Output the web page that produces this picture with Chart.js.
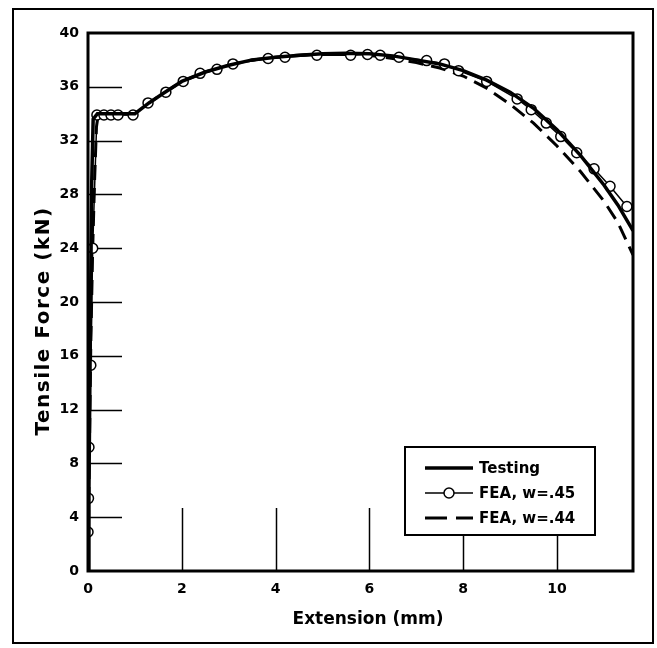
<!DOCTYPE html>
<html>
<head>
<meta charset="utf-8">
<script src="https://cdn.jsdelivr.net/npm/chart.js@4.4.1/dist/chart.umd.min.js"></script>
<style>
    html, body { margin: 0; padding: 0; background: #fff; }
    #wrap { width: 657px; height: 648px; position: relative; }
</style>
</head>
<body>
<div id="wrap"><canvas id="chart" width="657" height="648"></canvas></div>
<script>
    // Testing (solid)
    const testX = [0, 0.02, 0.04, 0.06, 0.08, 0.11, 0.2, 0.6, 1.0, 1.3, 1.6, 2.0, 2.5, 3.0, 3.5, 4.0, 4.5, 5.0, 5.5, 6.0, 6.5, 7.0, 7.5, 8.0, 8.5, 9.0, 9.5, 10.0, 10.5, 11.0, 11.3, 11.62];
    const testY = [0, 6, 14, 22, 29, 33.6, 34, 34, 34, 34.8, 35.5, 36.4, 37.1, 37.6, 38.0, 38.2, 38.35, 38.45, 38.5, 38.45, 38.3, 38.0, 37.7, 37.2, 36.5, 35.6, 34.4, 32.8, 30.9, 28.7, 27.2, 25.3];

    // FEA, w=.45 (circles)
    const feaX = [0, 0.01, 0.02, 0.06, 0.1, 0.19, 0.34, 0.49, 0.64, 0.96, 1.28, 1.66, 2.03, 2.39, 2.75, 3.09, 3.84, 4.2, 4.88, 5.6, 5.96, 6.23, 6.63, 7.22, 7.6, 7.9, 8.5, 9.15, 9.45, 9.77, 10.08, 10.42, 10.79, 11.13, 11.49];
    const feaY = [2.9, 5.4, 9.2, 15.3, 24.0, 33.9, 33.9, 33.9, 33.9, 33.9, 34.8, 35.6, 36.4, 37.0, 37.3, 37.7, 38.1, 38.2, 38.35, 38.35, 38.4, 38.35, 38.2, 37.95, 37.7, 37.2, 36.4, 35.1, 34.3, 33.3, 32.3, 31.1, 29.9, 28.6, 27.1];

    // FEA, w=.44 (dashed)
    const dashX = [0, 0.03, 0.06, 0.1, 0.14, 0.18, 0.22, 0.6, 1.0, 1.3, 1.6, 2.0, 2.5, 3.0, 3.5, 4.0, 4.5, 5.0, 5.5, 6.0, 6.5, 7.0, 7.5, 8.0, 8.5, 9.0, 9.5, 10.0, 10.5, 11.0, 11.3, 11.62];
    const dashY = [0, 9, 17, 24, 29, 33, 34, 34, 34, 34.8, 35.5, 36.4, 37.1, 37.6, 38.0, 38.2, 38.35, 38.45, 38.45, 38.35, 38.1, 37.8, 37.4, 36.8, 35.9, 34.7, 33.3, 31.6, 29.7, 27.5, 25.9, 23.5];

    const seriesNames = ['Testing', 'FEA, w=.45', 'FEA, w=.44'];
    const xTitle = 'Extension (mm)';
    const yTitle = 'Tensile Force (kN)';

    const toPoints = (xs, ys) => xs.map((x, i) => ({ x: x, y: ys[i] }));

    const tickFont = { family: 'DejaVu Sans', weight: 'bold', size: 14 };

    // frame, inward ticks, box, titles and legend drawn the way the paper figure does
    const paperPlugin = {
        id: 'paper',
        beforeDatasetsDraw(chart) {
            const ctx = chart.ctx;
            const a = chart.chartArea;
            const xs = chart.scales.x, ys = chart.scales.y;
            ctx.save();
            ctx.strokeStyle = '#000';
            ctx.lineWidth = 1.5;
            ys.ticks.forEach(t => {
                if (t.value <= 0 || t.value >= 40) return;
                const p = Math.round(ys.getPixelForValue(t.value)) + 0.5;
                ctx.beginPath(); ctx.moveTo(a.left, p); ctx.lineTo(a.left + 34, p); ctx.stroke();
            });
            xs.ticks.forEach(t => {
                if (t.value <= 0) return;
                const p = Math.round(xs.getPixelForValue(t.value)) + 0.5;
                ctx.beginPath(); ctx.moveTo(p, a.bottom); ctx.lineTo(p, a.bottom - 63); ctx.stroke();
            });
            ctx.restore();
        },
        afterDraw(chart) {
            const ctx = chart.ctx;
            const a = chart.chartArea;
            ctx.save();
            ctx.strokeStyle = '#000';
            ctx.fillStyle = '#000';

            ctx.lineWidth = 2;
            ctx.strokeRect(13, 9, 640, 634);

            ctx.lineWidth = 3;
            ctx.strokeRect(a.left, a.top, a.right - a.left, a.bottom - a.top);

            // axis titles
            ctx.font = 'bold 17px "DejaVu Sans"';
            ctx.textAlign = 'center';
            ctx.textBaseline = 'middle';
            ctx.fillText(xTitle, 368, 620);
            ctx.save();
            ctx.translate(44, 321);
            ctx.rotate(-Math.PI / 2);
            ctx.font = 'bold 20px "DejaVu Sans"';
            ctx.letterSpacing = '1.5px';
            ctx.fillText(yTitle, 0, 0);
            ctx.restore();

            // legend
            const lx = 405, ly = 447, lw = 190, lh = 88;
            ctx.fillStyle = '#fff';
            ctx.fillRect(lx, ly, lw, lh);
            ctx.lineWidth = 2;
            ctx.strokeRect(lx, ly, lw, lh);
            const rows = [468, 493, 518];
            const x0 = 425, x1 = 473;
            chart.data.datasets.forEach((ds, i) => {
                const y = rows[i];
                ctx.save();
                ctx.strokeStyle = '#000';
                ctx.lineWidth = ds.borderWidth;
                if (i === 2) ctx.setLineDash([22, 9]);
                ctx.beginPath(); ctx.moveTo(x0, y); ctx.lineTo(x1, y); ctx.stroke();
                ctx.restore();
                if (i === 1) {
                    ctx.beginPath();
                    ctx.arc((x0 + x1) / 2, y, 5, 0, Math.PI * 2);
                    ctx.fillStyle = '#fff';
                    ctx.fill();
                    ctx.lineWidth = 1.5;
                    ctx.stroke();
                }
                ctx.fillStyle = '#000';
                ctx.font = 'bold 15px "DejaVu Sans"';
                ctx.textAlign = 'left';
                ctx.textBaseline = 'middle';
                ctx.fillText(seriesNames[i], 479, y + 1);
            });
            ctx.restore();
        }
    };

    new Chart(document.getElementById('chart'), {
        type: 'scatter',
        data: {
            datasets: [
                {
                    label: seriesNames[0],
                    data: toPoints(testX, testY),
                    showLine: true,
                    borderColor: '#000',
                    borderWidth: 3.5,
                    pointRadius: 0,
                    tension: 0
                },
                {
                    label: seriesNames[1],
                    data: toPoints(feaX, feaY),
                    showLine: true,
                    borderColor: '#000',
                    borderWidth: 1.5,
                    pointRadius: 5,
                    pointBorderWidth: 1.5,
                    pointBorderColor: '#000',
                    pointBackgroundColor: '#fff',
                    tension: 0
                },
                {
                    label: seriesNames[2],
                    data: toPoints(dashX, dashY),
                    showLine: true,
                    borderColor: '#000',
                    borderWidth: 3,
                    borderDash: [15, 8],
                    pointRadius: 0,
                    tension: 0
                }
            ]
        },
        options: {
            responsive: false,
            animation: false,
            layout: { padding: { left: 0, top: 33, right: 24, bottom: 0 } },
            plugins: {
                legend: { display: false },
                tooltip: { enabled: false }
            },
            scales: {
                x: {
                    type: 'linear',
                    min: 0,
                    max: 11.62,
                    afterFit: (s) => { s.height = 77; },
                    grid: { display: false, drawTicks: false },
                    border: { display: false },
                    ticks: { stepSize: 2, includeBounds: false, padding: 10, color: '#000', font: tickFont }
                },
                y: {
                    min: 0,
                    max: 40,
                    afterFit: (s) => { s.width = 88; },
                    grid: { display: false, drawTicks: false },
                    border: { display: false },
                    ticks: { stepSize: 4, padding: 9, color: '#000', font: tickFont }
                }
            }
        },
        plugins: [paperPlugin]
    });
</script>
</body>
</html>
